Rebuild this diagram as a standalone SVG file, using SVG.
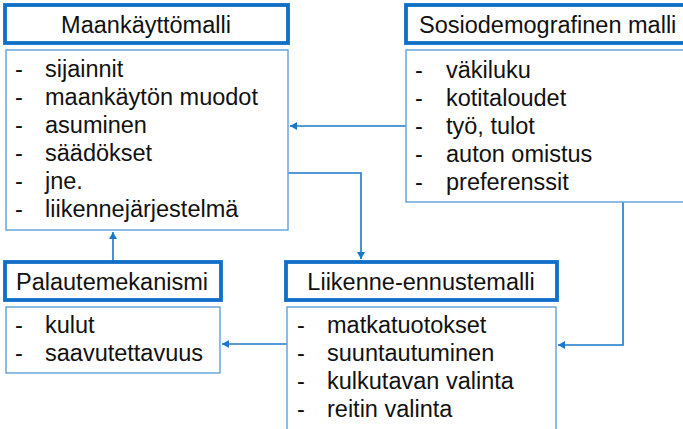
<svg xmlns="http://www.w3.org/2000/svg" width="683" height="429" viewBox="0 0 683 429">
<defs>
<style>
.hdr{fill:#fff;stroke:#0f6fc6;stroke-width:3.8}
.body{fill:#fff;stroke:#6aa5dc;stroke-width:1.5}
text{font-family:"Liberation Sans",Arial,sans-serif;font-size:23.5px;fill:#111}
.c{stroke:#1a78c8;stroke-width:1.6;fill:none}
</style>
<marker id="ah" markerWidth="8" markerHeight="8" refX="7" refY="4" orient="auto" markerUnits="userSpaceOnUse">
<path d="M0,0 L7,4 L0,8 Z" fill="#1a78c8"/>
</marker>
</defs>
<rect width="683" height="429" fill="#fff"/>
<g id="connectors">
<path class="c" d="M406,126 H290" marker-end="url(#ah)"/>
<path class="c" d="M288,173 H361 V259" marker-end="url(#ah)"/>
<path class="c" d="M623,202 V345 H558" marker-end="url(#ah)"/>
<path class="c" d="M287,344 H222" marker-end="url(#ah)"/>
<path class="c" d="M113,261 V232" marker-end="url(#ah)"/>
</g>
<g id="maankayttomalli">
<rect class="hdr" x="5" y="5" width="283" height="38"/>
<text x="146" y="33" text-anchor="middle">Maankäyttömalli</text>
<rect class="body" x="6" y="50" width="282" height="180"/>
<text x="15" y="77">-</text><text x="45" y="77">sijainnit</text>
<text x="15" y="105">-</text><text x="45" y="105">maankäytön muodot</text>
<text x="15" y="133">-</text><text x="45" y="133">asuminen</text>
<text x="15" y="161">-</text><text x="45" y="161">säädökset</text>
<text x="15" y="189">-</text><text x="45" y="189">jne.</text>
<text x="15" y="217">-</text><text x="45" y="217">liikennejärjestelmä</text>
</g>
<g id="sosiodemografinen">
<rect class="hdr" x="406" y="5" width="290" height="38"/>
<text x="419" y="33">Sosiodemografinen malli</text>
<rect class="body" x="406" y="50" width="290" height="152"/>
<text x="415" y="78">-</text><text x="446" y="78">väkiluku</text>
<text x="415" y="106">-</text><text x="446" y="106">kotitaloudet</text>
<text x="415" y="134">-</text><text x="446" y="134">työ, tulot</text>
<text x="415" y="162">-</text><text x="446" y="162">auton omistus</text>
<text x="415" y="190">-</text><text x="446" y="190">preferenssit</text>
</g>
<g id="palautemekanismi">
<rect class="hdr" x="5" y="262" width="216" height="38"/>
<text x="16" y="290">Palautemekanismi</text>
<rect class="body" x="6" y="307" width="214" height="66"/>
<text x="15" y="333">-</text><text x="45" y="333">kulut</text>
<text x="15" y="361">-</text><text x="45" y="361">saavutettavuus</text>
</g>
<g id="liikenne-ennustemalli">
<rect class="hdr" x="286" y="262" width="271" height="38"/>
<text x="421" y="290" text-anchor="middle">Liikenne-ennustemalli</text>
<rect class="body" x="287" y="307" width="269" height="130"/>
<text x="297" y="333">-</text><text x="327" y="333">matkatuotokset</text>
<text x="297" y="361">-</text><text x="327" y="361">suuntautuminen</text>
<text x="297" y="389">-</text><text x="327" y="389">kulkutavan valinta</text>
<text x="297" y="417">-</text><text x="327" y="417">reitin valinta</text>
</g>
</svg>
